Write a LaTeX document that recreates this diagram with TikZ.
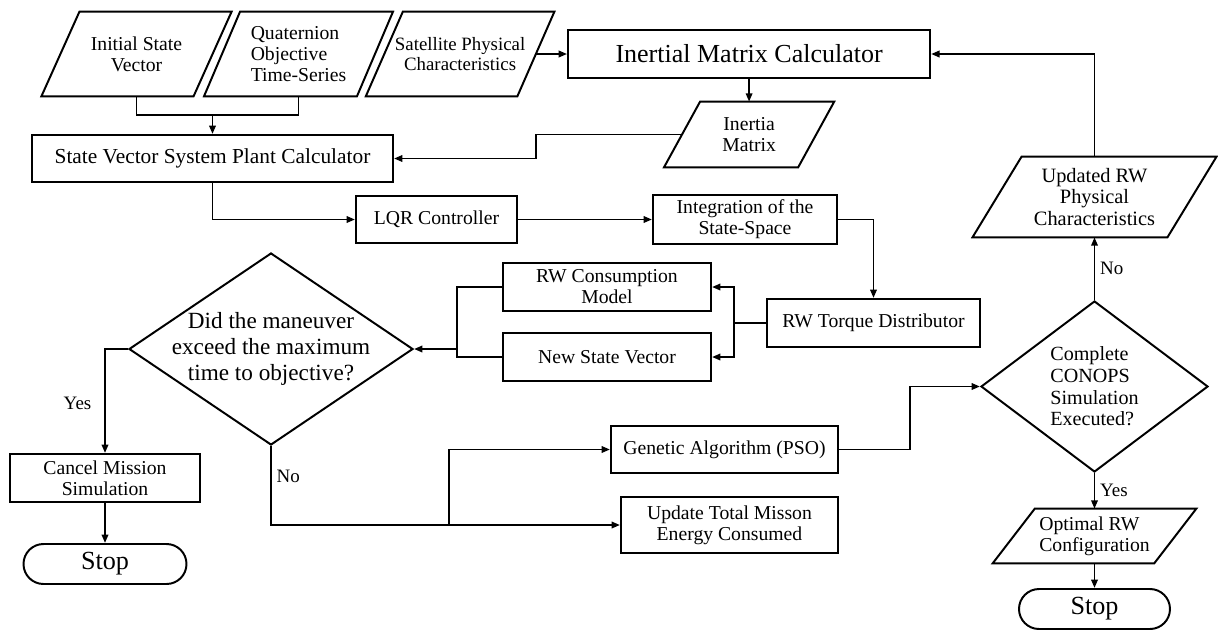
\documentclass[tikz,border=0pt]{standalone}
\usepackage{fontspec}
\setmainfont{Liberation Serif}
\usetikzlibrary{shapes,arrows,arrows.meta,positioning}

% outline of a data (input/output) block around a named node
\newcommand{\slantbox}[2]{%
  \draw[line width=1.4pt, line join=miter] ([xshift=#2]#1.north west) -- ([xshift=#2]#1.north east)
    -- ([xshift=-#2]#1.south east) -- ([xshift=-#2]#1.south west) -- cycle;}

\begin{document}
\begin{tikzpicture}[node distance=1cm, auto]
    % Define styles
    \tikzstyle{inputdata} = [rectangle, inner sep=2pt, align=center, font=\fontsize{14}{15}\selectfont]
    \tikzstyle{process} = [draw, rectangle, line width=1.4pt, align=center, font=\fontsize{14}{15}\selectfont]
    \tikzstyle{decision} = [draw, diamond, line width=1.4pt, align=center]
    \tikzstyle{terminal} = [draw, rectangle, rounded corners=0.5cm, minimum height=1cm, line width=1.4pt, font=\fontsize{18.6}{20}\selectfont]
    \tikzstyle{answer} = [font=\fontsize{13.5}{15}\selectfont]
    \tikzstyle{arrow} = [line width=1.4pt, ->, >={Triangle[length=6pt, width=4.6pt]}]
    \tikzstyle{branch} = [line width=1.4pt]

    \useasboundingbox (-3.4125,1.35) rectangle (27.0375,-14.4);

    % Row 1: inputs and inertia
    \node[inputdata, minimum width=3.79cm, minimum height=2.1cm] (init) {Initial State\\Vector};
    \node[inputdata, minimum width=3.81cm, minimum height=2.1cm, align=left, right of=init, xshift=3.05cm] (quat) {Quaternion\\Objective\\Time-Series};
    \node[inputdata, minimum width=3.775cm, minimum height=2.1cm, font=\fontsize{13.4}{14.2}\selectfont, right of=quat, xshift=3.04cm] (sat) {Satellite Physical\\Characteristics};
    \node[process, minimum width=9.05cm, minimum height=1.2cm, font=\fontsize{18.5}{20}\selectfont, right of=sat, xshift=6.225cm] (inertcalc) {Inertial Matrix Calculator};
    \node[inputdata, minimum width=3.34cm, minimum height=1.625cm, below of=inertcalc, yshift=-1.0125cm] (inertmat) {Inertia\\Matrix};
    \slantbox{init}{0.475cm}
    \slantbox{quat}{0.45cm}
    \slantbox{sat}{0.4625cm}
    \slantbox{inertmat}{0.45cm}

    % Row 2: plant, controller, integration
    \node[process, minimum width=9.025cm, minimum height=1.175cm, font=\fontsize{15.2}{16}\selectfont, below of=init, xshift=1.9cm, yshift=-1.6125cm] (plant) {State Vector System Plant Calculator};
    \node[process, minimum width=4.025cm, minimum height=1.175cm, below of=plant, xshift=5.6cm, yshift=-0.525cm] (lqr) {LQR Controller};
    \node[process, minimum width=4.6cm, minimum height=1.175cm, right of=lqr, xshift=6.7125cm] (integ) {Integration of the\\State-Space};

    % Row 3: torque distribution and check
    \node[process, minimum width=5.325cm, minimum height=1.2cm, below of=integ, xshift=3.2125cm, yshift=-1.5875cm] (torque) {RW Torque Distributor};
    \node[process, minimum width=5.2cm, minimum height=1.2cm, left of=torque, xshift=-5.6625cm, yshift=0.9cm] (rwcons) {RW Consumption\\Model};
    \node[process, minimum width=5.2cm, minimum height=1.2cm, below of=rwcons, yshift=-0.75cm] (newstate) {New State Vector};
    \node[decision, shape aspect=1.48, minimum width=7.1cm, minimum height=4.8cm, inner sep=-6pt, font=\fontsize{16.5}{18.5}\selectfont, left of=newstate, xshift=-7.4cm, yshift=0.2cm] (maneuver) {Did the maneuver\\exceed the maximum\\time to objective?};

    % Row 4: outcomes
    \node[process, minimum width=4.75cm, minimum height=1.2cm, below of=maneuver, xshift=-4.15cm, yshift=-2.225cm] (cancel) {Cancel Mission\\Simulation};
    \node[terminal, minimum width=4.075cm, below of=cancel, yshift=-1.15cm] (stopA) {Stop};
    \node[process, minimum width=5.675cm, minimum height=1.175cm, right of=maneuver, xshift=10.3375cm, yshift=-2.5125cm] (ga) {Genetic Algorithm (PSO)};
    \node[process, minimum width=5.425cm, minimum height=1.4cm, below of=ga, xshift=0.125cm, yshift=-0.8875cm] (update) {Update Total Misson\\Energy Consumed};

    % Right column
    \node[decision, minimum width=5.675cm, minimum height=4.275cm, inner sep=0pt, align=left, font=\fontsize{14.3}{15.4}\selectfont, right of=ga, xshift=8.25cm, yshift=1.575cm] (conops) {Complete\\CONOPS\\Simulation\\Executed?};
    \node[inputdata, minimum width=4.86cm, minimum height=2cm, font=\fontsize{14.5}{15}\selectfont, above of=conops, yshift=3.7375cm] (updrw) {Updated RW\\Physical\\Characteristics};
    \node[inputdata, minimum width=4.025cm, minimum height=1.35cm, align=left, below of=conops, yshift=-2.7375cm] (optrw) {Optimal RW\\Configuration};
    \node[terminal, minimum width=3.775cm, below of=optrw, yshift=-0.825cm] (stopB) {Stop};
    \slantbox{updrw}{0.6125cm}
    \slantbox{optrw}{0.525cm}

    % Arrows: inputs
    \coordinate (injoin) at (plant.north |- 0,-1.525);
    \draw[branch] (init.south) |- (injoin) -| (quat.south);
    \draw[arrow] (injoin) -- (plant.north);
    \draw[arrow] (sat.east) -- (inertcalc.west);
    \draw[arrow] (inertcalc.south) -- (inertmat.north);
    \draw[arrow] (inertmat.west) -- ++(-3.65cm,0) |- (plant.east);

    % Arrows: simulation loop
    \draw[arrow] (plant.south) |- (lqr.west);
    \draw[arrow] (lqr.east) -- (integ.west);
    \draw[arrow] (integ.east) -| (torque.north);
    \coordinate (tsplit) at ([xshift=-0.8cm]torque.west);
    \draw[arrow] (torque.west) -- (tsplit) |- (rwcons.east);
    \draw[arrow] (tsplit) |- (newstate.east);
    \coordinate (msplit) at ([xshift=-1.125cm]rwcons.west);
    \draw[branch] (rwcons.west) -- (msplit) |- (newstate.west);
    \draw[arrow] (msplit |- maneuver.east) -- (maneuver.east);

    % Arrows: decision outcomes
    \draw[arrow] (maneuver.west) -| (cancel.north) node[answer, pos=0.76, left, xshift=-2mm] {Yes};
    \draw[arrow] (cancel.south) -- (stopA.north);
    \draw[arrow] (maneuver.south) |- (update.west) node[answer, pos=0.19, right] {No};
    \coordinate (nsplit) at ([xshift=-4.275cm]update.west);
    \draw[arrow] (nsplit) |- (ga.west);
    \draw[arrow] (ga.east) -- ++(1.775cm,0) |- (conops.west);

    % Arrows: optimisation loop
    \draw[arrow] (conops.north) -- (updrw.south) node[answer, midway, right] {No};
    \draw[arrow] (updrw.north) |- (inertcalc.east);
    \draw[arrow] (conops.south) -- (optrw.north) node[answer, midway, right] {Yes};
    \draw[arrow] (optrw.south) -- (stopB.north);
\end{tikzpicture}
\end{document}
